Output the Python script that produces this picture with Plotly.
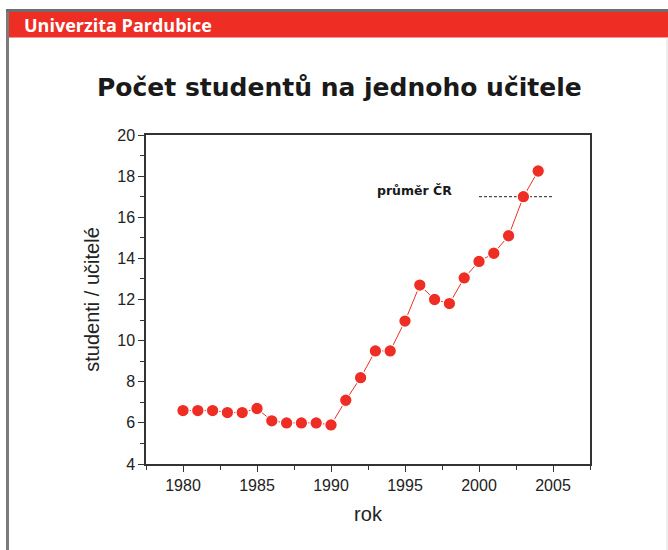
import plotly.graph_objects as go

years = list(range(1980, 2005))
ratio = [6.6, 6.6, 6.6, 6.5, 6.5, 6.7, 6.1, 6.0, 6.0, 6.0, 5.9,
         7.1, 8.2, 9.5, 9.5, 10.95, 12.7, 12.0, 11.8, 13.05, 13.85,
         14.25, 15.1, 17.0, 18.25]
avg_cr_x = [2000, 2005]
avg_cr_y = [17.0, 17.0]

W, H = 668, 550
L, R, T, B = 146, 590, 135, 464  # plot area in pixels

def px(x):
    return (x - L) / (R - L)

def py(y):
    return (B - y) / (B - T)

RED = "#EE2E24"

fig = go.Figure()
fig.add_trace(go.Scatter(
    x=avg_cr_x, y=avg_cr_y, mode="lines",
    line=dict(color="#222222", width=1, dash="3px,2px"),
    showlegend=False, hoverinfo="skip"))
fig.add_trace(go.Scatter(
    x=years, y=ratio, mode="lines+markers",
    line=dict(color=RED, width=1),
    marker=dict(color=RED, size=12.5, line=dict(color="white", width=1.2)),
    showlegend=False))

fig.update_layout(
    width=W, height=H,
    margin=dict(l=L, r=W - R, t=T, b=H - B),
    paper_bgcolor="white", plot_bgcolor="white",
    font=dict(family="Liberation Sans, Arial, sans-serif", color="#222222"),
    xaxis=dict(range=[1977.5, 2007.5], tickvals=[1980, 1985, 1990, 1995, 2000, 2005],
               ticks="outside", ticklen=6, tickwidth=1.2, tickcolor="#333333",
               minor=dict(dtick=2.5, tick0=1977.5, ticks="outside", ticklen=4, tickcolor="#333333"),
               showline=True, linecolor="#333333", linewidth=1.5, mirror=True,
               showgrid=False, zeroline=False,
               tickfont=dict(size=16, color="#222222"),
               title=dict(text="rok", font=dict(size=20, color="#222222"), standoff=14)),
    yaxis=dict(range=[4, 20], dtick=2, tick0=4,
               ticks="outside", ticklen=6, tickwidth=1.2, tickcolor="#333333",
               minor=dict(dtick=1, ticks="outside", ticklen=4, tickcolor="#333333"),
               showline=True, linecolor="#333333", linewidth=1.5, mirror=True,
               showgrid=False, zeroline=False,
               tickfont=dict(size=16, color="#222222"),
               title=dict(text="studenti / učitelé", font=dict(size=20, color="#222222"), standoff=12)),
)

# frame and header band
fig.add_shape(type="rect", xref="paper", yref="paper",
              x0=px(6), x1=px(9), y0=py(550), y1=py(9),
              fillcolor="#7a7a7a", line=dict(width=0), layer="above")
fig.add_shape(type="rect", xref="paper", yref="paper",
              x0=px(6), x1=px(668), y0=py(12), y1=py(9),
              fillcolor="#6e6e6e", line=dict(width=0), layer="above")
fig.add_shape(type="rect", xref="paper", yref="paper",
              x0=px(9), x1=px(668), y0=py(37.5), y1=py(12),
              fillcolor=RED, line=dict(width=0), layer="above")
fig.add_shape(type="line", xref="paper", yref="paper",
              x0=px(667), x1=px(667), y0=py(550), y1=py(37.5),
              line=dict(color="#dddddd", width=1), layer="above")

fig.add_annotation(text="<b>Univerzita Pardubice</b>", xref="paper", yref="paper",
                   x=px(22), y=py(24.5), xanchor="left", yanchor="middle", showarrow=False,
                   font=dict(family="Open Sans, Lato, sans-serif", size=18, color="white"))
fig.add_annotation(text="<b>Počet studentů na jednoho učitele</b>", xref="paper", yref="paper",
                   x=px(339), y=py(87), xanchor="center", yanchor="middle", showarrow=False,
                   font=dict(family="DejaVu Sans, Verdana, sans-serif", size=25, color="#1a1a1a"))
fig.add_annotation(text="<b>průměr ČR</b>", x=1998.3, y=17.0,
                   xanchor="right", yanchor="bottom", showarrow=False, yshift=-3,
                   font=dict(family="DejaVu Sans, Verdana, sans-serif", size=12.5, color="#1a1a1a"))

fig.write_html("out.html", config={"displayModeBar": False},
               post_script="document.body.style.margin='0';document.body.style.overflow='hidden';")
